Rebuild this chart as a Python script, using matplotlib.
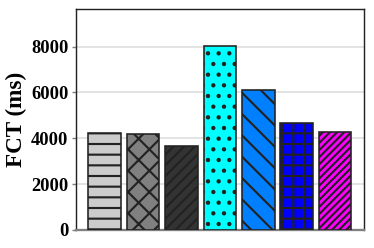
import matplotlib
matplotlib.use("Agg")
import matplotlib.pyplot as plt

# Data
categories = ["A", "B", "C", "D", "E", "F", "G"]
fct_ms = [4250, 4200, 3680, 8030, 6110, 4690, 4290]
colors = ["#cccccc", "#808080", "#333333", "#00ffff", "#0080ff", "#0000ff", "#ff00ff"]
hatches = ["-", "x", "//", ".", "\\", "+", "///"]
yticks = [0, 2000, 4000, 6000, 8000]

DPI = 64
plt.rcParams["font.family"] = ["Liberation Serif", "DejaVu Serif"]
plt.rcParams["font.weight"] = "bold"
plt.rcParams["hatch.linewidth"] = 2.4
plt.rcParams["hatch.color"] = "black"

fig = plt.figure(figsize=(374 / DPI, 248 / DPI), dpi=DPI)
ax = fig.add_axes([0.2024, 0.0726, 0.7709, 0.8899])

x = list(range(len(categories)))
bars = ax.bar(x, fct_ms, width=0.845, color=colors, edgecolor="#222222",
              linewidth=1.8, zorder=3)
for b, h in zip(bars, hatches):
    b.set_hatch(h)

ax.set_xlim(-0.75, 6.75)
ax.set_ylim(0, 9630)
ax.set_xticks([])
ax.set_yticks(yticks)
ax.set_yticklabels([str(v) for v in yticks], fontsize=20.8, fontweight="bold")
ax.tick_params(axis="y", length=5, width=1.6, color="#808080", pad=3)
ax.yaxis.grid(True, color="#e3e3e3", linewidth=2.2, zorder=0)
ax.set_axisbelow(True)

for side in ["left", "top", "right"]:
    ax.spines[side].set_color("#222222")
    ax.spines[side].set_linewidth(1.6)
ax.spines["bottom"].set_color("#808080")
ax.spines["bottom"].set_linewidth(2.6)

ax.set_ylabel("FCT (ms)", fontsize=26, fontweight="bold")
ax.yaxis.set_label_coords(-0.17, 0.5)

fig.savefig("out.png", dpi=DPI)
